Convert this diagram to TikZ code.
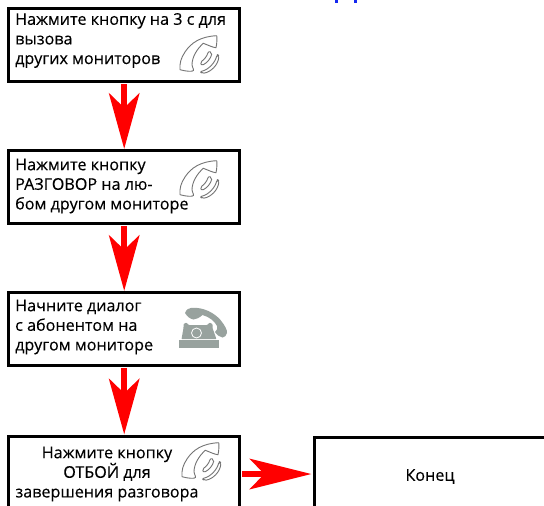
\documentclass[tikz,border=0pt]{standalone}
\usepackage{fontspec}
\setmainfont[FakeBold=0.25]{Open Sans}
\usetikzlibrary{arrows.meta}
\definecolor{arrowred}{RGB}{255,0,0}
\definecolor{phonegrey}{RGB}{152,162,158}
\definecolor{titleblue}{RGB}{20,40,240}
\tikzset{
  x=1pt,y=-1pt,
  stepbox/.style={draw=black,line width=3pt,fill=white,minimum width=230.5pt,minimum height=72.5pt,inner sep=0pt,outer sep=1.5pt},
  steptext/.style={inner sep=0pt,font=\fontsize{16.15}{19.6}\selectfont,text=black},
  flow/.style={draw=arrowred,line width=6pt,-{Stealth[length=56pt,width=31pt,inset=15pt,fill=arrowred,line width=0pt]},shorten <=1.5pt,shorten >=0.5pt},
  flowh/.style={draw=arrowred,line width=5.5pt,-{Stealth[length=62pt,width=31pt,inset=15pt,fill=arrowred,line width=0pt]},shorten <=1pt,shorten >=2pt},
  handset/.pic={
    \draw[draw=black!55,line width=0.9pt,line join=round,fill=white]
      (36.7,-0.3) .. controls (37.2,0) and (37,8) .. (36,11.7)
      .. controls (33,11.5) and (29,9.5) .. (23.3,7.3)
      .. controls (17,13) and (12,21) .. (12,29)
      .. controls (13,33) and (14,33.5) .. (13.5,34.5)
      .. controls (13,35.8) and (6,35.5) .. (0,33.7)
      .. controls (-0.5,27) and (1,22) .. (5,16)
      .. controls (11,7) and (20,0.5) .. (36.7,-0.3) -- cycle;
    \draw[draw=black!55,line width=0.9pt,line join=round,fill=white,rounded corners=2pt]
      (20,26) .. controls (24,24) and (27,20) .. (28.5,15) -- (32,16.5)
      .. controls (31,22) and (27,27) .. (21.5,29.5) -- cycle;
    \draw[draw=black!55,line width=0.9pt,line join=round,fill=white,rounded corners=2pt]
      (20,35.5) .. controls (28,34) and (35,27) .. (37,18.5) -- (39,19.5)
      .. controls (38,29) and (31,36) .. (22,37.5) -- cycle;
  },
  deskphone/.pic={
    \fill[phonegrey] (0,0) rectangle (40,8);
    \fill[phonegrey,rounded corners=0.8pt] (3,-0.8) -- (5,-12) -- (5,-16) -- (8,-17.5) -- (10,-15) -- (29,-15) -- (31,-17.5) -- (34,-16) -- (34,-12) -- (38,-0.8) -- cycle;
    \draw[white,line width=0.8pt] (18,-7) circle (5);
    \fill[phonegrey] (6.5,-27) .. controls (8,-30.5) and (10,-32) .. (13,-32.2)
      .. controls (25,-33) and (36,-27) .. (42,-20)
      .. controls (46,-15) and (49,-10) .. (48.5,-7)
      .. controls (48,-4) and (46,-3) .. (44,-2.5)
      .. controls (41,-3) and (38.5,-5) .. (36.5,-8)
      .. controls (38.5,-10) and (39.5,-11.5) .. (38.5,-14)
      .. controls (36,-19) and (31,-23) .. (24,-25)
      .. controls (21,-22.5) and (18,-20.5) .. (15,-20.5)
      .. controls (12,-21) and (9,-23) .. (6.5,-27) -- cycle;
  }
}
\begin{document}
\begin{tikzpicture}
\useasboundingbox (0,0) rectangle (544,506);
\fill[white] (0,0) rectangle (544,506);
% clipped remnants of a title at the top edge
\fill[titleblue] (335,0) rectangle (338,2.5);
\fill[titleblue] (354,0) rectangle (357,2.5);

\node[stepbox] (b1) at (124.2,45) {};
\node[stepbox] (b2) at (124.2,187) {};
\node[stepbox] (b3) at (124.2,329) {};
\node[stepbox] (b4) at (124.2,472.5) {};
\node[stepbox] (b5) at (430,474) {};

\node[steptext,anchor=west,align=left] (t1) at (15,40.5) {Нажмите кнопку на 3 с для\\вызова\\других мониторов};
\node[steptext,anchor=west,align=left] (t2) at (15,186) {Нажмите кнопку\\РАЗГОВОР на лю-\\бом другом мониторе};
\node[steptext,anchor=west,align=left] (t3) at (15,327) {Начните диалог\\с абонентом на\\другом мониторе};
\node[steptext,align=center] (t4) at (107,474) {Нажмите кнопку\\ОТБОЙ для\\завершения разговора};
\node[steptext] (t5) at (430,476.5) {Конец};

\pic at (180,36) {handset};
\pic at (180,161) {handset};
\pic at (182,443) {handset};
\pic at (178.5,340) {deskphone};

\draw[flow] (b1.south) -- (b2.north);
\draw[flow] (b2.south) -- (b3.north);
\draw[flow] (b3.south) -- (b4.north);
\draw[flowh] (b4.east |- b5.center) -- (b5.west);
\end{tikzpicture}
\end{document}
